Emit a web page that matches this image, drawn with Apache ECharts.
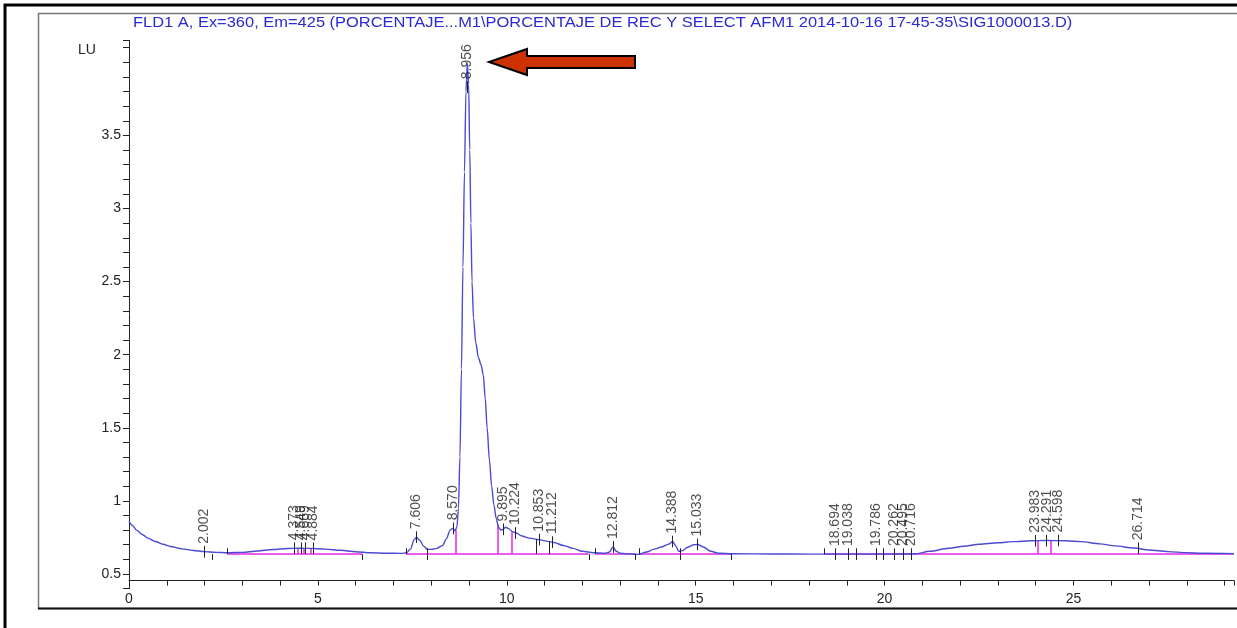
<!DOCTYPE html>
<html><head><meta charset="utf-8">
<script src="https://cdn.jsdelivr.net/npm/echarts@6/dist/echarts.min.js"></script>
<style>html,body{margin:0;padding:0;background:#fff}#c{width:1237px;height:628px}</style>
</head><body><div id="c"></div>
<script>
// ---- data ----
const titleText = 'FLD1 A, Ex=360, Em=425 (PORCENTAJE...M1\\PORCENTAJE DE REC Y SELECT AFM1 2014-10-16 17-45-35\\SIG1000013.D)';
const traceTime = [0.00,0.10,0.20,0.35,0.50,0.70,0.90,1.10,1.40,1.70,2.00,2.30,2.60,3.00,3.40,3.80,4.20,4.50,4.80,5.20,5.60,6.00,6.40,6.80,7.20,7.35,7.45,7.55,7.61,7.70,7.80,7.90,8.00,8.15,8.30,8.40,8.50,8.57,8.63,8.68,8.72,8.76,8.80,8.84,8.88,8.92,8.956,8.99,9.02,9.05,9.08,9.12,9.18,9.25,9.32,9.38,9.43,9.48,9.54,9.60,9.66,9.72,9.78,9.84,9.90,9.97,10.05,10.15,10.25,10.40,10.60,10.85,11.05,11.25,11.50,11.75,12.00,12.30,12.60,12.72,12.81,12.90,13.00,13.30,13.50,13.70,13.90,14.10,14.30,14.39,14.48,14.55,14.65,14.80,14.95,15.05,15.20,15.40,15.60,16.00,17.00,18.00,19.00,20.00,20.80,21.20,21.70,22.10,22.50,23.00,23.40,23.90,24.30,24.80,25.20,25.70,26.10,26.60,27.00,27.50,28.00,28.40,29.25];
const traceLU   = [0.862,0.830,0.800,0.770,0.745,0.722,0.703,0.688,0.672,0.661,0.653,0.648,0.645,0.648,0.657,0.667,0.674,0.676,0.675,0.670,0.662,0.652,0.645,0.642,0.641,0.645,0.670,0.735,0.752,0.730,0.690,0.668,0.668,0.675,0.695,0.740,0.800,0.812,0.795,0.820,0.950,1.300,1.900,2.600,3.250,3.800,3.995,3.850,3.400,2.900,2.500,2.250,2.080,1.980,1.930,1.860,1.700,1.500,1.280,1.100,0.970,0.880,0.820,0.800,0.805,0.820,0.810,0.790,0.780,0.760,0.745,0.735,0.725,0.715,0.695,0.675,0.655,0.645,0.642,0.650,0.685,0.655,0.642,0.636,0.634,0.650,0.670,0.685,0.705,0.722,0.690,0.655,0.660,0.685,0.700,0.702,0.685,0.655,0.642,0.638,0.637,0.636,0.636,0.636,0.638,0.655,0.676,0.690,0.703,0.714,0.721,0.727,0.729,0.727,0.721,0.706,0.692,0.678,0.664,0.653,0.646,0.642,0.639];
const peakNames = ['2.002','4.373','4.549','4.669','4.884','7.606','8.570','8.956','9.895','10.224','10.853','11.212','12.812','14.388','15.033','18.694','19.038','19.786','20.262','20.495','20.716','23.983','24.291','24.598','26.714'];
const peakTimes = [2.002,4.373,4.549,4.669,4.884,7.606,8.570,8.956,9.895,10.224,10.853,11.212,12.812,14.388,15.033,18.694,19.038,19.786,20.262,20.495,20.716,23.983,24.291,24.598,26.714];
const peakLevels = [0.652,0.676,0.676,0.676,0.675,0.752,0.812,3.830,0.805,0.780,0.735,0.718,0.685,0.722,0.702,0.636,0.636,0.636,0.636,0.636,0.636,0.727,0.728,0.729,0.676];
const baselineLU = 0.636;
const baselineSegments = [[2.6,6.17],[7.33,12.17],[12.35,13.4],[13.5,15.95],[18.4,29.25]];
const dropTimesMagenta = [4.46,4.62,4.80,8.66,9.77,10.14,24.05,24.40];
const dropTopsMagenta  = [0.676,0.676,0.675,0.800,0.840,0.790,0.727,0.729];
const dropTimesBlack = [10.77,11.13];
const dropTopsBlack  = [0.738,0.722];
const eventUp   = [2.6,7.33,12.35,13.5,18.4];
const eventDown = [2.21,6.17,12.17,13.4,15.95];
const eventCross = [7.9,14.6,19.25,19.96];
const yLabelValues = [0.5,1,1.5,2,2.5,3,3.5];
const xLabelValues = [0,5,10,15,20,25];

// ---- chart ----
const FONT = '"Liberation Sans", Arial, sans-serif';
const chart = echarts.init(document.getElementById('c'), null, {renderer:'canvas'});
const trace = traceTime.map((t,i)=>[t, traceLU[i]]);
const segLines = (arr)=>arr.map(s=>({coords:[[s[0],baselineLU],[s[1],baselineLU]]}));
const vLines = (times, lo, hi)=>times.map((t,i)=>({coords:[[t, typeof lo==='number'?lo:lo[i]],[t, typeof hi==='number'?hi:hi[i]]]}));
const TICK = 0.04;

chart.setOption({
  animation:false,
  backgroundColor:'#fff',
  grid:{left:129,right:0,top:40.4,bottom:39.4,containLabel:false},
  xAxis:{type:'value',min:0,max:29.25,interval:1,offset:-8,
    axisLine:{lineStyle:{color:'#222',width:1}},
    axisTick:{length:5,lineStyle:{color:'#222'}},
    splitLine:{show:false},
    axisLabel:{margin:12,fontSize:14,color:'#222',fontFamily:FONT,hideOverlap:false,
      formatter:v=>xLabelValues.some(x=>Math.abs(x-v)<1e-6)?String(Math.round(v)):''}},
  yAxis:{type:'value',min:0.4,max:4.15,interval:0.1,
    axisLine:{show:true,lineStyle:{color:'#222',width:1}},
    axisTick:{show:true,length:6,lineStyle:{color:'#222'}},
    splitLine:{show:false},
    axisLabel:{margin:8,fontSize:14,color:'#222',fontFamily:FONT,hideOverlap:false,
      formatter:v=>yLabelValues.some(y=>Math.abs(y-v)<1e-6)?String(Math.round(v*10)/10):''}},
  graphic:[
    {type:'rect',shape:{x:5,y:5,width:1400,height:800},style:{fill:'none',stroke:'#000',lineWidth:3},silent:true},
    {type:'rect',shape:{x:38.5,y:13.5,width:1400,height:595},style:{fill:'none',stroke:'#777',lineWidth:1.5},silent:true},
    {type:'line',shape:{x1:38,y1:608.5,x2:1237,y2:608.5},style:{stroke:'#111',lineWidth:2},silent:true},
    {type:'text',x:133,y:16,scaleX:1.175,originX:0,style:{text:titleText,font:'14px '+FONT,fill:'#2a2ad4'},silent:true},
    {type:'text',left:78,top:43,style:{text:'LU',font:'14px '+FONT,fill:'#222'}},
    {type:'polygon',shape:{points:[[489,62],[527,49],[527,56],[635,56],[635,68],[527,68],[527,75]]},
      style:{fill:'#cc3300',stroke:'#000',lineWidth:2},z:100}
  ],
  series:[
    {type:'lines',coordinateSystem:'cartesian2d',polyline:false,silent:true,z:2,
      lineStyle:{color:'#e826e8',width:1.5,opacity:1},data:segLines(baselineSegments)},
    {type:'lines',coordinateSystem:'cartesian2d',silent:true,z:2,
      lineStyle:{color:'#e826e8',width:1.5,opacity:1},data:vLines(dropTimesMagenta, baselineLU, dropTopsMagenta)},
    {type:'line',data:trace,showSymbol:false,smooth:0.3,smoothMonotone:'x',z:3,
      lineStyle:{color:'#4a4ad2',width:1.4},silent:true},
    {type:'lines',coordinateSystem:'cartesian2d',silent:true,z:4,
      lineStyle:{color:'#222',width:1,opacity:1},
      data:[].concat(vLines(dropTimesBlack, baselineLU, dropTopsBlack),
                     vLines(eventUp, baselineLU, baselineLU+TICK),
                     vLines(eventDown, baselineLU-TICK, baselineLU),
                     vLines(eventCross, baselineLU-TICK, baselineLU+TICK),
                     peakTimes.map((t,i)=>({coords:[[t,peakLevels[i]-TICK],[t,peakLevels[i]+TICK]]})))},
    {type:'scatter',symbolSize:0,silent:true,z:5,
      data:peakTimes.map((t,i)=>({name:peakNames[i],value:[t,peakLevels[i]]})),
      label:{show:true,rotate:90,position:'top',distance:6,align:'left',verticalAlign:'middle',offset:[2,0],
        formatter:p=>p.name,fontSize:14,color:'#222',fontFamily:FONT}}
  ]
});
</script>
</body></html>
